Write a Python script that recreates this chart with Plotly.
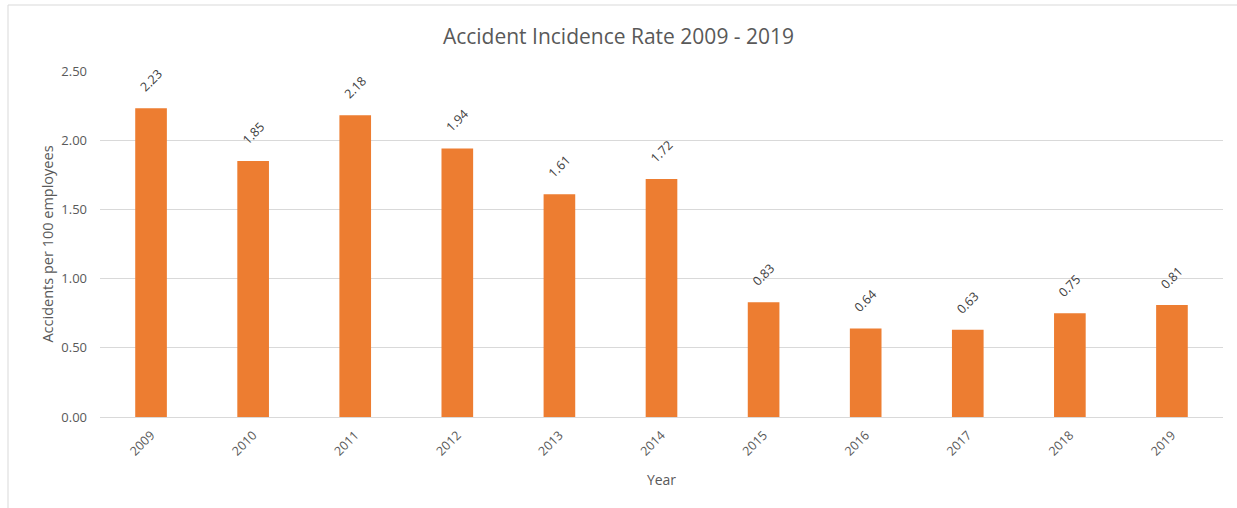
import plotly.graph_objects as go

years = ["2009", "2010", "2011", "2012", "2013", "2014", "2015", "2016", "2017", "2018", "2019"]
rates = [2.23, 1.85, 2.18, 1.94, 1.61, 1.72, 0.83, 0.64, 0.63, 0.75, 0.81]
y_ticks = [0, 0.5, 1.0, 1.5, 2.0, 2.5]

font_family = "Open Sans"
grey = "#595959"

fig = go.Figure(go.Bar(
    x=years, y=rates,
    marker=dict(color="#ED7D31", line=dict(width=0)),
    hoverinfo="x+y",
))

# on a category axis numeric-looking strings are read as indices, so use the category index
annotations = [
    dict(x=i, y=v, xref="x", yref="y", text=f"{v:.2f}", showarrow=False,
         textangle=-45, xanchor="center", yanchor="bottom", yshift=10,
         font=dict(family=font_family, size=12.5, color="#404040"))
    for i, v in enumerate(rates)
]

fig.update_layout(
    width=1237, height=508,
    margin=dict(l=100, r=14, t=71, b=91),
    paper_bgcolor="white", plot_bgcolor="white",
    bargap=0.69,
    showlegend=False,
    title=dict(text="Accident Incidence Rate 2009 - 2019", x=0.5, xanchor="center",
               y=1 - 37/508, yanchor="middle",
               font=dict(family=font_family, size=21, color=grey)),
    xaxis=dict(
        type="category",
        tickangle=-45,
        tickfont=dict(family=font_family, size=12.5, color=grey),
        showgrid=False, showline=True, linecolor="#D9D9D9", linewidth=1,
        ticks="",
        ticklabelstandoff=5,
        title=dict(text="Year", font=dict(family=font_family, size=14, color=grey), standoff=16),
    ),
    yaxis=dict(
        range=[0, 2.5],
        tickvals=y_ticks,
        tickformat=".2f",
        tickfont=dict(family=font_family, size=13, color=grey),
        showgrid=True, gridcolor="#D9D9D9", gridwidth=1,
        zeroline=False, showline=False, ticks="",
        ticklabelstandoff=12,
        title=dict(text="Accidents per 100 employees",
                   font=dict(family=font_family, size=14.5, color=grey), standoff=4),
    ),
    annotations=annotations,
    shapes=[
        dict(type="line", xref="paper", yref="paper", x0=-92/1123, x1=1.02, y0=1 + 66/346, y1=1 + 66/346,
             line=dict(color="#D9D9D9", width=1)),
        dict(type="line", xref="paper", yref="paper", x0=-92/1123, x1=-92/1123, y0=1 + 66/346, y1=-91/346,
             line=dict(color="#D9D9D9", width=1)),
    ],
)

fig.write_html("out.html")
